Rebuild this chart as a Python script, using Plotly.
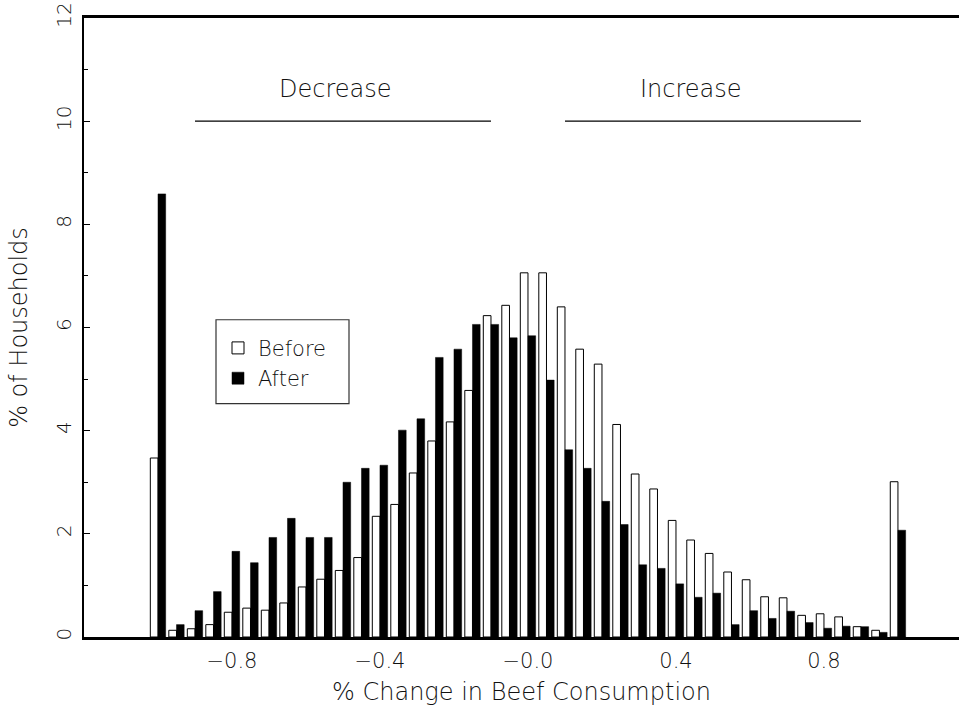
import plotly.graph_objects as go

# Bin centres (% change in beef consumption)
bins = [-1.00, -0.95, -0.90, -0.85, -0.80, -0.75, -0.70, -0.65, -0.60, -0.55,
        -0.50, -0.45, -0.40, -0.35, -0.30, -0.25, -0.20, -0.15, -0.10, -0.05,
        0.00, 0.05, 0.10, 0.15, 0.20, 0.25, 0.30, 0.35, 0.40, 0.45,
        0.50, 0.55, 0.60, 0.65, 0.70, 0.75, 0.80, 0.85, 0.90, 0.95, 1.00]

before = [3.47, 0.13, 0.16, 0.24, 0.48, 0.56, 0.52, 0.66, 0.97, 1.12,
          1.29, 1.54, 2.34, 2.57, 3.18, 3.80, 4.17, 4.78, 6.23, 6.43,
          7.06, 7.06, 6.40, 5.58, 5.29, 4.12, 3.16, 2.87, 2.26, 1.88,
          1.62, 1.26, 1.11, 0.78, 0.76, 0.42, 0.45, 0.39, 0.20, 0.13, 3.01]

after = [8.59, 0.24, 0.51, 0.88, 1.66, 1.44, 1.93, 2.30, 1.93, 1.93,
         3.00, 3.27, 3.33, 4.01, 4.23, 5.42, 5.58, 6.06, 6.06, 5.80,
         5.84, 4.98, 3.63, 3.27, 2.63, 2.18, 1.40, 1.33, 1.03, 0.77,
         0.85, 0.24, 0.51, 0.36, 0.50, 0.28, 0.17, 0.21, 0.20, 0.09, 2.07]

x_tickvals = [-0.8, -0.4, 0.0, 0.4, 0.8]
x_ticktext = ["\u22120.8", "\u22120.4", "\u22120.0", "0.4", "0.8"]
y_tickvals = [0, 2, 4, 6, 8, 10, 12]

FONT = "DejaVu Sans"
TXT = "#111111"

W, H = 959, 717
ML, MT, MB = 84, 18, 79.5
PW = W - ML
PH = H - MT - MB


def px_x(px):  # page pixel -> paper x
    return (px - ML) / PW


def px_y(py):  # page pixel -> paper y
    return (H - MB - py) / PH


fig = go.Figure()
fig.add_trace(go.Bar(
    x=bins, y=before, name="Before", legendgroup="a",
    marker=dict(color="white", line=dict(color="black", width=1)),
))
fig.add_trace(go.Bar(
    x=bins, y=after, name="After", legendgroup="b",
    marker=dict(color="black", line=dict(color="black", width=0.5)),
))

# Decrease / Increase brackets
for x0, x1, label, xl in [(-0.9, -0.1, "Decrease", -0.52), (0.1, 0.9, "Increase", 0.44)]:
    fig.add_shape(type="line", x0=x0, x1=x1, y0=10, y1=10, xref="x", yref="y",
                  line=dict(color="black", width=1.3))
    fig.add_annotation(x=xl, y=10.63, xref="x", yref="y", text=label, showarrow=False,
                       font=dict(family=FONT, size=24, color=TXT, weight=300))

# legend box
fig.add_shape(type="rect", xref="paper", yref="paper",
              x0=px_x(216), x1=px_x(349), y0=px_y(404), y1=px_y(320),
              line=dict(color="#333", width=1.2), fillcolor="rgba(0,0,0,0)")

fig.update_layout(
    width=W, height=H,
    margin=dict(l=ML, r=0, t=MT, b=MB),
    paper_bgcolor="white", plot_bgcolor="white",
    barmode="group", bargap=0.17, bargroupgap=0,
    font=dict(family=FONT, color=TXT, weight=300),
    showlegend=True,
    legend=dict(x=px_x(218), y=px_y(328), xanchor="left", yanchor="top",
                bgcolor="rgba(0,0,0,0)", borderwidth=0, traceorder="grouped",
                tracegroupgap=0, font=dict(family=FONT, size=21, color=TXT, weight=300)),
    xaxis=dict(
        range=[-1.2, 1.165], tickvals=x_tickvals, ticktext=x_ticktext,
        showgrid=False, zeroline=False, ticks="", ticklabelstandoff=3,
        automargin=False,
        showline=True, linecolor="black", linewidth=2.5, mirror=True,
        tickfont=dict(family=FONT, size=21, color=TXT, weight=300),
        title=dict(text="% Change in Beef Consumption", standoff=12,
                   font=dict(family=FONT, size=24, color=TXT, weight=300)),
    ),
    yaxis=dict(
        range=[0, 12], tickvals=y_tickvals, tickangle=-90,
        automargin=False, ticklabeloverflow="allow",
        showgrid=False, zeroline=False, ticks="inside", ticklen=6, tickwidth=1,
        tickcolor="black",
        minor=dict(dtick=1, ticks="inside", ticklen=4, tickwidth=1, tickcolor="black"),
        showline=True, linecolor="black", linewidth=2,
        ticklabelstandoff=3,
        tickfont=dict(family=FONT, size=20, color=TXT, weight=300),
        title=dict(text="% of Households", standoff=18,
                   font=dict(family=FONT, size=24, color=TXT, weight=300)),
    ),
)

fig.write_html("out.html", config={"displayModeBar": False},
               post_script="document.body.style.margin='0';")
